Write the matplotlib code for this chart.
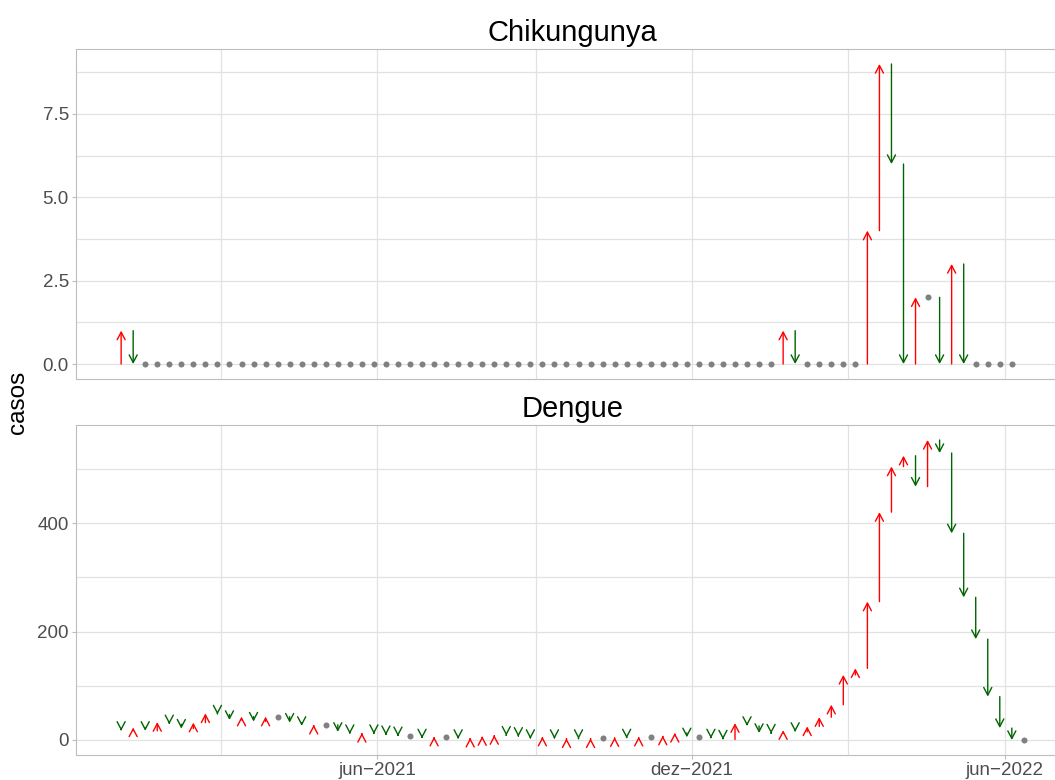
import matplotlib
matplotlib.use("Agg")
import matplotlib.pyplot as plt
import matplotlib.dates as mdates
from matplotlib.patches import FancyArrowPatch, ArrowStyle
import pandas as pd

plt.rcParams['font.family'] = ['Liberation Sans', 'DejaVu Sans']

# ---------------- data ----------------
start_week = "2021-01-03"
facet_names = ["Chikungunya", "Dengue"]

chik_prev0 = 0
chik_values = [1,
               0, 0, 0, 0, 0, 0, 0, 0, 0, 0, 0, 0, 0, 0, 0, 0, 0, 0,
               0, 0, 0, 0, 0, 0, 0, 0, 0, 0, 0, 0, 0, 0, 0, 0, 0, 0,
               0, 0, 0, 0, 0, 0, 0, 0, 0, 0, 0, 0, 0, 0, 0, 0, 0, 0,
               1, 0, 0, 0, 0, 0, 0,
               4, 9, 6, 0, 2, 2, 0, 3, 0,
               0, 0, 0, 0]

dengue_prev0 = 21
dengue_values = [17, 23, 17, 33, 29, 21, 32, 49, 47, 37,
                 43, 34, 43, 43, 32, 26, 28, 28, 15, 11,
                 13, 11, 9, 7, 7, 3, 6, 6, 2, 4,
                 7, 9, 8, 6, 2, 6, 2, 3, 2, 3,
                 3, 5, 3, 6, 6, 8, 13, 5, 5, 3,
                 1, 31, 26, 13, 12, 18, 15, 25, 42, 65,
                 120, 132, 255, 420, 504, 524, 467, 553, 529, 381,
                 263, 186, 80, 22, 0, 0]

x_tick_dates = ["2021-06-01", "2021-12-01", "2022-06-01"]
x_tick_labels = ["jun\u22122021", "dez\u22122021", "jun\u22122022"]
x_minor_dates = ["2021-03-02", "2021-09-01", "2022-03-02"]

chik_yticks = [0, 2.5, 5.0, 7.5]
chik_ylabels = ["0.0", "2.5", "5.0", "7.5"]
chik_yminor = [1.25, 3.75, 6.25, 8.75]
dengue_yticks = [0, 200, 400]
dengue_ylabels = ["0", "200", "400"]
dengue_yminor = [100, 300, 500]

# ---------------- figure ----------------
W, H = 1055, 780
fig = plt.figure(figsize=(W / 100, H / 100), dpi=100)

def px_axes(left, top, right, bottom):
    return fig.add_axes([left / W, 1 - bottom / H, (right - left) / W, (bottom - top) / H])

ax1 = px_axes(76, 49, 1069, 379)
ax2 = px_axes(76, 425, 1069, 755)

all_dates = pd.date_range(start_week, periods=len(dengue_values), freq="7D")
xnum = mdates.date2num(all_dates)
span = xnum[-1] - xnum[0]
xlim = (xnum[0] - 0.05 * span, xnum[-1] + 0.05 * span)

up_col = "#FF0000"
down_col = "#006400"
eq_col = "#808080"
grid_col = "#e2e2e2"
border_col = "#bdbdbd"

def draw(ax, values, prev0, yticks, ylabels, yminor, title, show_x):
    x = xnum[:len(values)]
    prev = prev0
    eq_x, eq_y = [], []
    for xi, v in zip(x, values):
        if v == prev:
            eq_x.append(xi)
            eq_y.append(v)
        else:
            col = up_col if v > prev else down_col
            arr = FancyArrowPatch((xi, prev), (xi, v),
                                  arrowstyle=ArrowStyle("->", head_length=5.5, head_width=2.9),
                                  mutation_scale=1, color=col, lw=1.0,
                                  shrinkA=0, shrinkB=0, zorder=3)
            ax.add_patch(arr)
        prev = v
    ax.scatter(eq_x, eq_y, s=19, color=eq_col, zorder=3, linewidths=0)

    vmin, vmax = 0, max(values)
    pad = 0.05 * (vmax - vmin)
    ax.set_ylim(vmin - pad, vmax + pad)
    ax.set_xlim(*xlim)

    ax.set_yticks(yticks)
    ax.set_yticklabels(ylabels)
    ax.set_yticks(yminor, minor=True)
    ax.set_xticks(mdates.date2num(pd.to_datetime(x_tick_dates)))
    ax.set_xticks(mdates.date2num(pd.to_datetime(x_minor_dates)), minor=True)
    if show_x:
        ax.set_xticklabels(x_tick_labels)
    else:
        ax.set_xticklabels([])
    ax.grid(True, which="both", color=grid_col, lw=0.9, zorder=0)
    ax.set_axisbelow(True)
    ax.tick_params(which="major", length=2.6, width=0.8, color=border_col,
                   labelsize=13.5, labelcolor="#4d4d4d", pad=2.5)
    ax.tick_params(which="minor", length=0)
    if not show_x:
        ax.tick_params(axis="x", which="major", length=0)
    for s in ax.spines.values():
        s.set_color(border_col)
        s.set_linewidth(0.8)
    ax.set_title(title, fontsize=21, color="black", pad=6)

draw(ax1, chik_values, chik_prev0, chik_yticks, chik_ylabels, chik_yminor, facet_names[0], False)
draw(ax2, dengue_values, dengue_prev0, dengue_yticks, dengue_ylabels, dengue_yminor, facet_names[1], True)

fig.text(18 / W, 1 - 402 / H, "casos", rotation=90, ha="center", va="center", fontsize=17.5)

fig.savefig("out.png", dpi=100)
